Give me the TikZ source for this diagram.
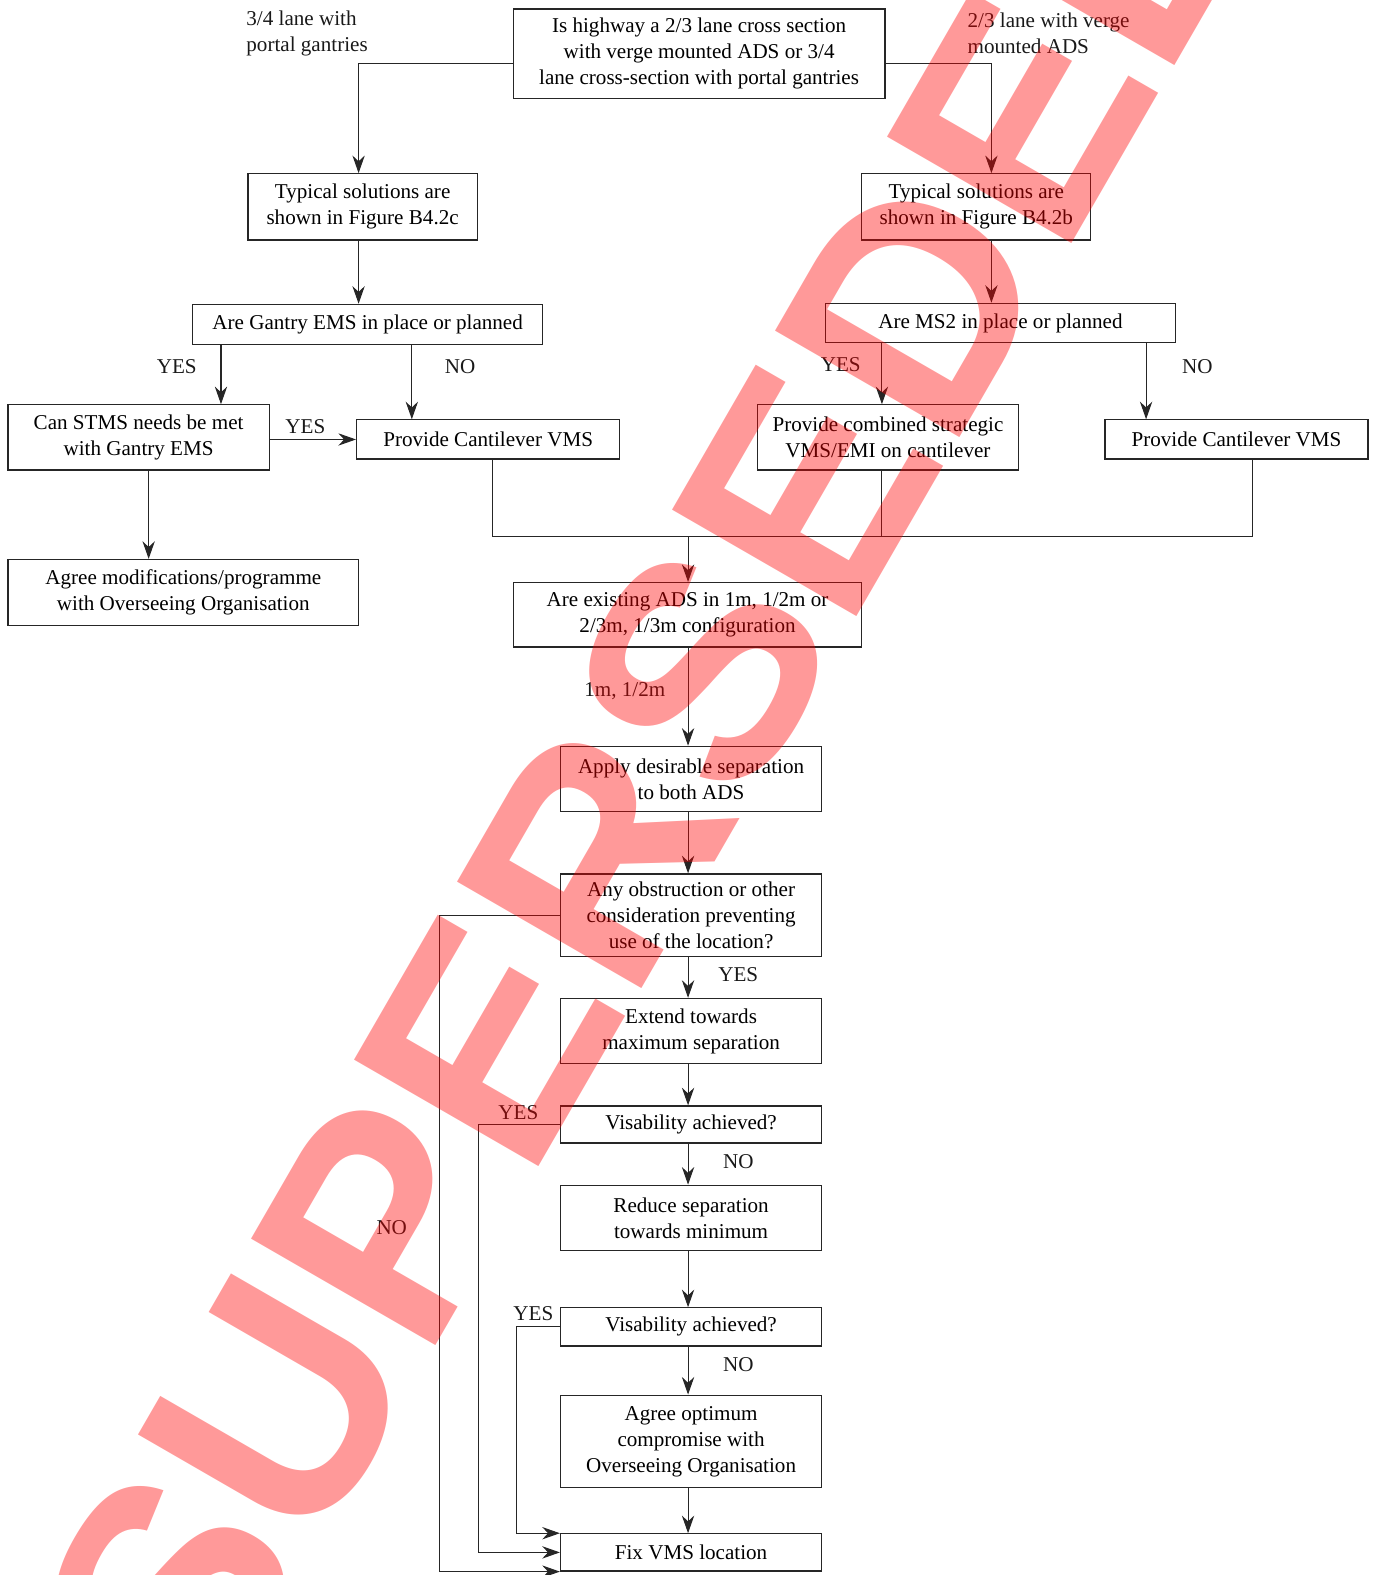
\documentclass[tikz,border=0pt]{standalone}
\usepackage{fontspec}
\setmainfont{Liberation Serif}
\newfontfamily\stampFont{Liberation Sans}
\usetikzlibrary{arrows}
\usetikzlibrary{arrows.meta}
\newcommand{\unitPx}{0.5713pt}
\tikzset{
    boxNode/.style 2 args = {draw=black!85,line width=0.7pt,align=center,inner sep=0pt,
                             minimum width=#1*\unitPx,minimum height=#2*\unitPx}
}

\begin{document}
\begin{tikzpicture}[x=0.2008mm,y=-0.2008mm,
        font=\fontsize{12}{14.8}\selectfont,
        labelNode/.style = {inner sep=0pt,text=black!90},
        plainLine/.style = {draw=black!85,line width=0.6pt},
        flowArrow/.style = {plainLine,-{Stealth[length=10pt,width=7pt]}},
        stampNode/.style = {inner sep=0pt,text=red,text opacity=0.4,
                            font=\stampFont\bfseries\fontsize{176}{176}\selectfont} % watermark
        ]
        \useasboundingbox (0,0) rectangle (1372,1568);

        % columns for the connectors
        \coordinate (colL) at (357,63);
        \coordinate (colR) at (987,63);
        \coordinate (gYes) at (220,0);
        \coordinate (gNo) at (410,0);
        \coordinate (mYes) at (878,0);
        \coordinate (mNo) at (1141,0);
        \coordinate (stmsDown) at (148,0);
        \coordinate (mergeL) at (490,534);
        \coordinate (mergeR) at (1247,534);
        \coordinate (colMid) at (685,0);
        \coordinate (loopNo) at (438,0);
        \coordinate (loopYesA) at (476,0);
        \coordinate (loopYesB) at (514,0);

        \node[boxNode={370}{89}] (highway) at (696,53.5) {Is highway a 2/3 lane cross section\\with verge mounted ADS or 3/4\\lane cross-section with portal gantries};
        \node[labelNode,anchor=west,align=left] (portalLbl) at (245,33) {3/4 lane with\\portal gantries};
        \node[labelNode,anchor=west,align=left] (vergeLbl) at (963,33) {2/3 lane with verge\\mounted ADS};

        \node[boxNode={228}{66}] (figC) at (361,206) {Typical solutions are\\shown in Figure B4.2c};
        \node[boxNode={228}{66}] (figB) at (972,206) {Typical solutions are\\shown in Figure B4.2b};
        \node[boxNode={348}{40}] (gantryEms) at (366,323) {Are Gantry EMS in place or planned};
        \node[boxNode={348}{39}] (ms2) at (996,321.5) {Are MS2 in place or planned};
        \node[boxNode={260}{65}] (stms) at (138,435.5) {Can STMS needs be met\\with Gantry EMS};
        \node[boxNode={262}{39}] (cantL) at (486,437.5) {Provide Cantilever VMS};
        \node[boxNode={260}{65}] (combined) at (884,435.5) {Provide combined strategic\\VMS/EMI on cantilever};
        \node[boxNode={262}{39}] (cantR) at (1231,437.5) {Provide Cantilever VMS};
        \node[boxNode={349}{66}] (agreeMod) at (182.5,590) {Agree modifications/programme\\with Overseeing Organisation};
        \node[boxNode={347}{64}] (existing) at (684.5,612) {Are existing ADS in 1m, 1/2m or\\2/3m, 1/3m configuration};
        \node[boxNode={260}{65}] (apply) at (688,775.5) {Apply desirable separation\\to both ADS};
        \node[boxNode={260}{82}] (obstruct) at (688,911) {Any obstruction or other\\consideration preventing\\use of the location?};
        \node[boxNode={260}{65}] (extend) at (688,1026.5) {Extend towards\\maximum separation};
        \node[boxNode={260}{37}] (visOne) at (688,1119.5) {Visability achieved?};
        \node[boxNode={260}{65}] (reduce) at (688,1212.5) {Reduce separation\\towards minimum};
        \node[boxNode={260}{38}] (visTwo) at (688,1321) {Visability achieved?};
        \node[boxNode={260}{92}] (agreeOpt) at (688,1435) {Agree optimum\\compromise with\\Overseeing Organisation};
        \node[boxNode={260}{37}] (fixVms) at (688,1545.5) {Fix VMS location};

        \draw[flowArrow] (highway.west |- colL) -| (figC.north -| colL);
        \draw[flowArrow] (highway.east |- colR) -| (figB.north -| colR);
        \draw[flowArrow] (figC.south -| colL) -- (gantryEms.north -| colL);
        \draw[flowArrow] (figB.south -| colR) -- (ms2.north -| colR);
        \draw[flowArrow] (gantryEms.south -| gYes) -- (stms.north -| gYes);
        \draw[flowArrow] (gantryEms.south -| gNo) -- (cantL.north -| gNo);
        \draw[flowArrow] (ms2.south -| mYes) -- (combined.north -| mYes);
        \draw[flowArrow] (ms2.south -| mNo) -- (cantR.north -| mNo);
        \draw[flowArrow] (stms.east |- cantL) -- (cantL.west);
        \draw[flowArrow] (stms.south -| stmsDown) -- (agreeMod.north -| stmsDown);

        \draw[plainLine] (cantL.south -| mergeL) -- (mergeL) -- (mergeR) -- (cantR.south -| mergeR);
        \draw[plainLine] (combined.south -| mYes) -- (mergeL -| mYes);
        \draw[flowArrow] (mergeL -| colMid) -- (existing.north -| colMid);
        \draw[flowArrow] (existing.south -| colMid) -- (apply.north -| colMid);
        \draw[flowArrow] (apply.south -| colMid) -- (obstruct.north -| colMid);
        \draw[flowArrow] (obstruct.south -| colMid) -- (extend.north -| colMid);
        \draw[flowArrow] (extend.south -| colMid) -- (visOne.north -| colMid);
        \draw[flowArrow] (visOne.south -| colMid) -- (reduce.north -| colMid);
        \draw[flowArrow] (reduce.south -| colMid) -- (visTwo.north -| colMid);
        \draw[flowArrow] (visTwo.south -| colMid) -- (agreeOpt.north -| colMid);
        \draw[flowArrow] (agreeOpt.south -| colMid) -- (fixVms.north -| colMid);

        \draw[flowArrow] (obstruct.west) -| (fixVms.south west -| loopNo) -- (fixVms.south west);
        \draw[flowArrow] (visOne.west) -| (fixVms.west -| loopYesA) -- (fixVms.west);
        \draw[flowArrow] (visTwo.west) -| (fixVms.north west -| loopYesB) -- (fixVms.north west);

        \node[labelNode] (gYesLbl) at (176,365) {YES};
        \node[labelNode] (gNoLbl) at (458,365) {NO};
        \node[labelNode] (stmsYesLbl) at (304,425) {YES};
        \node[labelNode] (mYesLbl) at (837,363) {YES};
        \node[labelNode] (mNoLbl) at (1192,365) {NO};
        \node[labelNode] (sepLbl) at (622,688) {1m, 1/2m};
        \node[labelNode] (obsYesLbl) at (735,970) {YES};
        \node[labelNode] (obsNoLbl) at (390,1222) {NO};
        \node[labelNode] (visOneYesLbl) at (516,1108) {YES};
        \node[labelNode] (visOneNoLbl) at (735,1156) {NO};
        \node[labelNode] (visTwoYesLbl) at (531,1308) {YES};
        \node[labelNode] (visTwoNoLbl) at (735,1359) {NO};

        \node[stampNode,rotate=60] (stamp) at (648,756) {SUPERSEDED};
    \end{tikzpicture}
\end{document}
